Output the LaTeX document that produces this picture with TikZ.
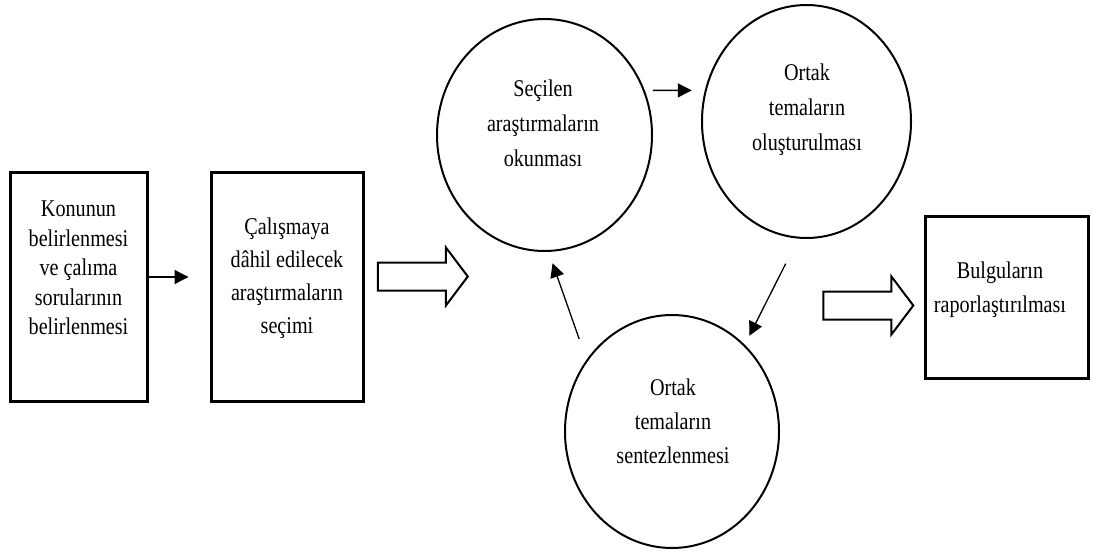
\documentclass[tikz,border=0pt]{standalone}
\usepackage{fontspec}
\setmainfont{Liberation Serif}[FakeStretch=0.84]
\usetikzlibrary{positioning,shapes.geometric,shapes.arrows,arrows.meta}

\begin{document}
\begin{tikzpicture}[x=1pt, y=-1pt,
  kutu/.style = {draw, line width=3pt, inner sep=0pt},
  daire/.style = {draw, ellipse, line width=2pt, inner sep=0pt, minimum width=214pt, minimum height=233pt},
  yazi/.style = {align=center, font=\fontsize{24}{33}\selectfont},
  ok/.style = {line width=1.3pt, -{Triangle[length=14pt,width=14pt]}},
  blok/.style = {draw, single arrow, line width=2pt, minimum height=90pt, minimum width=57pt, single arrow head extend=15pt, single arrow tip angle=106, inner xsep=0pt, inner ysep=13pt}]
\useasboundingbox (0,0) rectangle (1096,551);
% kutular
\node[kutu, minimum width=137pt, minimum height=229pt] (k1) at (78.5,286.5) {};
\node[yazi, font=\fontsize{24}{29.5}\selectfont] (y1) at (78.5,268) {Konunun\\belirlenmesi\\ve çalıma\\sorularının\\belirlenmesi};
\node[kutu, minimum width=152pt, minimum height=229pt] (k2) at (287,286.5) {};
\node[yazi] (y2) at (287,278) {Çalışmaya\\dâhil edilecek\\araştırmaların\\seçimi};
\node[blok] (b1) at (417.5,276.5) {};
% daireler
\node[daire, minimum width=215pt, minimum height=232pt] (c1) at (544.5,135) {};
\node[yazi, font=\fontsize{24}{35}\selectfont] (y3) at (543,123) {Seçilen\\araştırmaların\\okunması};
\node[daire, minimum width=209pt] (c2) at (806.5,121.5) {};
\node[yazi, font=\fontsize{24}{35}\selectfont] (y4) at (807,110) {Ortak\\temaların\\oluşturulması};
\node[daire] (c3) at (672,431.5) {};
\node[yazi, font=\fontsize{24}{34}\selectfont] (y5) at (673,421) {Ortak\\temaların\\sentezlenmesi};
\node[blok] (b2) at (863,305.5) {};
\node[kutu, minimum width=163pt, minimum height=162pt] (k3) at (1006.5,297) {};
\node[yazi, font=\fontsize{24}{34}\selectfont] (y6) at (1000,290) {Bulguların\\raporlaştırılması};
% oklar
\draw[ok, shorten >=21pt] ([yshift=9.5pt]k1.east) -- ([yshift=9.5pt]k2.west);
\draw[ok, shorten <=8pt, shorten >=13pt] (c1.24) -- (c2.163);
\draw[ok, shorten <=28pt, shorten >=10pt] (c2.266) -- (c3.50);
\draw[ok, shorten <=22pt, shorten >=12pt] (c3.140) -- (c1.272);
\end{tikzpicture}
\end{document}
